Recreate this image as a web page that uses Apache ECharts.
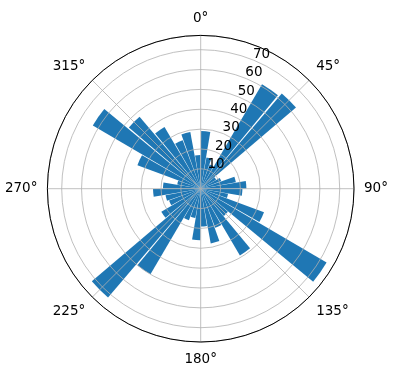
<!DOCTYPE html>
<html>
<head>
<meta charset="utf-8">
<script src="https://cdn.jsdelivr.net/npm/echarts@6/dist/echarts.min.js"></script>
<style>
  html, body { margin: 0; padding: 0; background: #fff; }
  #chart { width: 396px; height: 380px; }
</style>
</head>
<body>
<div id="chart"></div>
<script>
// bar directions (centre of each 10 degree sector) and bar heights
const directions = ['5', '15', '25', '35', '45', '55', '65', '75', '85',
  '95', '105', '115', '125', '135', '145', '155', '165', '175',
  '185', '195', '205', '215', '225', '235', '245', '255', '265',
  '275', '285', '295', '305', '315', '325', '335', '345', '355'];
const counts = [29, 16, 13, 61, 63, 9, 11, 18, 23,
  21, 14, 34, 73.5, 18, 39, 21, 28, 19,
  26, 15, 17, 50, 72, 23, 17, 18, 24,
  19, 12, 34, 63, 47.5, 36, 26, 29, 17];
const angleTicks = [0, 45, 90, 135, 180, 225, 270, 315];
const radiusTicks = [10, 20, 30, 40, 50, 60, 70];
const rMax = 77.2;

const chart = echarts.init(document.getElementById('chart'));
const centre = [200.7, 188.7];
const rad = 153.3;
const font = 'DejaVu Sans';

const option = {
  backgroundColor: '#fff',
  animation: false,
  polar: [
    { center: centre, radius: rad },
    { center: centre, radius: rad },
    { center: centre, radius: rad }
  ],
  angleAxis: [
    {
      polarIndex: 0, type: 'value', min: 0, max: 360, interval: 45,
      startAngle: 90, clockwise: true, z: 10,
      axisLine: { lineStyle: { color: '#000', width: 1 } },
      axisTick: { show: false },
      axisLabel: {
        margin: 10, fontSize: 13.5, fontFamily: font, color: '#000',
        formatter: v => angleTicks.includes(v) ? v + '°' : ''
      },
      splitLine: { lineStyle: { color: '#b0b0b0', width: 0.8 } }
    },
    {
      polarIndex: 1, type: 'category', data: directions,
      startAngle: 90, clockwise: true,
      axisLine: { show: false }, axisTick: { show: false },
      axisLabel: { show: false }, splitLine: { show: false }
    },
    {
      polarIndex: 2, type: 'value', min: 0, max: 360,
      startAngle: 67.5, show: false
    }
  ],
  radiusAxis: [
    {
      polarIndex: 0, type: 'value', min: 0, max: rMax, interval: 10, z: 10,
      axisLine: { show: false }, axisTick: { show: false },
      axisLabel: { show: false },
      splitLine: { showMaxLine: false, lineStyle: { color: '#b0b0b0', width: 0.8 } }
    },
    { polarIndex: 1, type: 'value', min: 0, max: rMax, show: false },
    {
      polarIndex: 2, type: 'value', min: 0, max: rMax, interval: 10, z: 11,
      axisLine: { show: false }, axisTick: { show: false },
      splitLine: { show: false },
      axisLabel: {
        margin: 1, fontSize: 13.5, fontFamily: font, color: '#000',
        align: 'left', verticalAlign: 'bottom', rotate: 0, lineHeight: 11,
        formatter: v => radiusTicks.includes(v) ? String(v) : ''
      }
    }
  ],
  series: [{
    type: 'bar',
    coordinateSystem: 'polar',
    polarIndex: 1,
    data: counts,
    barCategoryGap: '8%',
    itemStyle: { color: '#1f77b4' }
  }]
};
chart.setOption(option);
</script>
</body>
</html>
